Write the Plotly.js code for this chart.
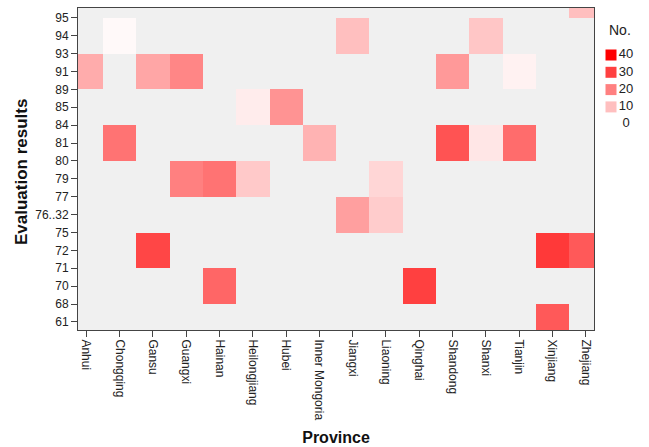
<!DOCTYPE html>
<html>
<head>
<meta charset="utf-8">
<script src="https://cdn.plot.ly/plotly-3.0.1.min.js"></script>
<style>html,body{margin:0;padding:0;background:#fff;}#chart{width:649px;height:447px;}</style>
</head>
<body>
<div id="chart"></div>
<script>
// ---- data ----
const provinces = ["Anhui","Chongqing","Gansu","Guangxi","Hainan","Heilongjiang","Hubei","Inner Mongoria","Jiangxi","Liaoning","Qinghai","Shandong","Shanxi","Tianjin","Xinjiang","Zhejiang"];
const yLabels = ["95","94","93","91","89","85","84","81","80","79","77","76..32","75","72","71","70","68","61"];
// rows of tiles (each tile row centred on one evaluation result); "top" = row above 95
const tileRows = ["top","94","91","85","81","79","76..32","72","70","61"];
const n = null;
const counts = [
// Anh Cho Gan Gua Hai Hei Hub InM Jia Lia Qin Sha Shx Tia Xin Zhe
  [n,  n,  n,  n,  n,  n,  n,  n,  n,  n,  n,  n,  n,  n,  n,  10],  // top
  [n,  1,  n,  n,  n,  n,  n,  n,  10, n,  n,  n,  9,  n,  n,  n ],  // 94
  [13, n,  14, 19, n,  n,  n,  n,  n,  n,  n,  16, n,  2,  n,  n ],  // 91
  [n,  n,  n,  n,  n,  3,  17, n,  n,  n,  n,  n,  n,  n,  n,  n ],  // 85
  [n,  22, n,  n,  n,  n,  n,  12, n,  n,  n,  27, 4,  23, n,  n ],  // 81
  [n,  n,  n,  20, 22, 8.5,n,  n,  n,  6.5,n,  n,  n,  n,  n,  n ],  // 79
  [n,  n,  n,  n,  n,  n,  n,  n,  15, 8,  n,  n,  n,  n,  n,  n ],  // 76..32
  [n,  n,  29, n,  n,  n,  n,  n,  n,  n,  n,  n,  n,  n,  31, 26],  // 72
  [n,  n,  n,  n,  24, n,  n,  n,  n,  n,  30, n,  n,  n,  n,  n ],  // 70
  [n,  n,  n,  n,  n,  n,  n,  n,  n,  n,  n,  n,  n,  n,  26, n ]   // 61
];
const legendLevels = [40, 30, 20, 10, 0];

// ---- build ----
const FONT = "Liberation Sans, Arial, sans-serif";
const cs = [[0, "#ffffff"], [1, "#ff0000"]];
const rowCenters = tileRows.map(r => r === "top" ? -1 : yLabels.indexOf(r));
const tickIdx = yLabels.map((_, i) => i);

const heat = {
  type: "heatmap",
  x: provinces,
  y: rowCenters,
  z: counts,
  colorscale: cs,
  zmin: 0, zmax: 40,
  showscale: false,
  hoverinfo: "x+z",
  xaxis: "x", yaxis: "y"
};

// legend built from levels (pixel-unit helper axes)
const legY = legendLevels.map((_, i) => 55 + i * 17.3);
const legSw = {
  type: "scatter", mode: "markers",
  x: legendLevels.map(() => 17), y: legY,
  marker: {symbol: "square", size: 11, color: legendLevels, colorscale: cs, cmin: 0, cmax: 40, line: {width: 0}},
  xaxis: "x2", yaxis: "y2", hoverinfo: "skip", showlegend: false
};
const legTx = {
  type: "scatter", mode: "text",
  x: legendLevels.map(() => 32), y: legY,
  text: legendLevels.map(String),
  textposition: "middle center",
  textfont: {family: FONT, size: 13, color: "#222"},
  xaxis: "x2", yaxis: "y2", hoverinfo: "skip", showlegend: false
};

const L = 78, R = 5, T = 8, B = 117;
const plotW = 649 - L - R;
const plotH = 447 - T - B;
const mainRight = (594 - L) / plotW;

const layout = {
  width: 649, height: 447,
  margin: {l: L, r: R, t: T, b: B, pad: 0},
  paper_bgcolor: "#ffffff",
  plot_bgcolor: "#ffffff",
  font: {family: FONT, size: 12, color: "#222"},
  showlegend: false,
  shapes: [{
    type: "rect", xref: "x domain", yref: "y domain",
    x0: 0, x1: 1, y0: 0, y1: 1,
    fillcolor: "#f0f0f0", line: {width: 0}, layer: "below"
  }],
  xaxis: {
    domain: [0, mainRight],
    type: "category",
    range: [-0.25, 15.25],
    showgrid: false, zeroline: false,
    showline: true, mirror: true, linecolor: "#444", linewidth: 1,
    ticks: "outside", ticklen: 6, tickcolor: "#444",
    tickangle: 90,
    tickfont: {family: FONT, size: 12, color: "#222"},
    title: {text: "Province", font: {family: FONT, size: 16, color: "#111", weight: "bold"}, standoff: 12}
  },
  yaxis: {
    domain: [0, 1],
    range: [17.45, -0.55],
    tickmode: "array", tickvals: tickIdx, ticktext: yLabels,
    showgrid: false, zeroline: false,
    showline: true, mirror: true, linecolor: "#444", linewidth: 1,
    ticks: "outside", ticklen: 6, tickcolor: "#444",
    tickfont: {family: FONT, size: 12, color: "#222"}
  },
  xaxis2: {domain: [mainRight, 1], range: [0, 649 - R - 594], visible: false, fixedrange: true},
  yaxis2: {domain: [0, 1], range: [447 - B, T], visible: false, fixedrange: true, anchor: "x2"},
  annotations: [{
    text: "No.", xref: "paper", yref: "paper",
    x: (620 - L) / plotW, y: 1 - (30 - T) / plotH,
    xanchor: "center", yanchor: "middle", showarrow: false,
    font: {family: FONT, size: 14, color: "#222"}
  }, {
    text: "<b>Evaluation results</b>", xref: "paper", yref: "paper",
    x: (21 - L) / plotW, y: 1 - (172 - T) / plotH,
    xanchor: "center", yanchor: "middle", textangle: -90, showarrow: false,
    font: {family: FONT, size: 17, color: "#111"}
  }]
};

Plotly.newPlot("chart", [heat, legSw, legTx], layout, {displayModeBar: false, staticPlot: true});
</script>
</body>
</html>
